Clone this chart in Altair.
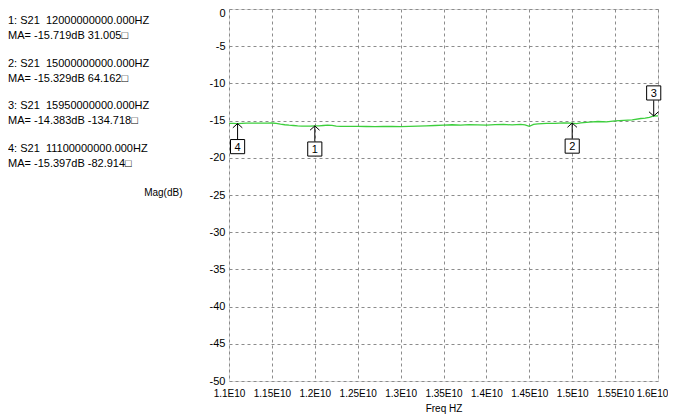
import altair as alt
import pandas as pd

# ---- trace data (frequency in units of 1E10 Hz, magnitude in dB) ----
freq = [1.100, 1.105, 1.110, 1.115, 1.120, 1.125, 1.130, 1.135, 1.140, 1.145,
        1.150, 1.155, 1.160, 1.165, 1.170, 1.175, 1.180, 1.185, 1.190, 1.195,
        1.200, 1.205, 1.210, 1.215, 1.220, 1.225, 1.230, 1.240, 1.250, 1.260,
        1.270, 1.280, 1.290, 1.300, 1.310, 1.320, 1.330, 1.340, 1.350, 1.360,
        1.370, 1.380, 1.390, 1.400, 1.410, 1.420, 1.430, 1.440, 1.445, 1.450,
        1.455, 1.460, 1.470, 1.480, 1.490, 1.500, 1.505, 1.510, 1.520, 1.530,
        1.540, 1.550, 1.560, 1.570, 1.580, 1.585, 1.590, 1.595, 1.600]
mag = [-15.36, -15.38, -15.40, -15.37, -15.35, -15.34, -15.33, -15.35, -15.33, -15.34,
       -15.32, -15.38, -15.48, -15.56, -15.62, -15.66, -15.72, -15.74, -15.74, -15.73,
       -15.72, -15.70, -15.66, -15.62, -15.64, -15.74, -15.77, -15.78, -15.78, -15.79,
       -15.80, -15.79, -15.78, -15.80, -15.78, -15.74, -15.70, -15.66, -15.62, -15.56,
       -15.60, -15.54, -15.58, -15.60, -15.54, -15.52, -15.58, -15.50, -15.56, -15.76,
       -15.50, -15.44, -15.38, -15.36, -15.30, -15.33, -15.40, -15.30, -15.20, -15.12,
       -15.16, -15.04, -14.96, -14.90, -14.72, -14.66, -14.56, -14.38, -14.36]

# ---- markers ----
marker_id = [1, 2, 3, 4]
marker_freq_hz = [12000000000, 15000000000, 15950000000, 11100000000]
marker_mag = [-15.719, -15.329, -14.383, -15.397]
marker_phase = [31.005, 64.162, -134.718, -82.914]
marker_dir = [-1, -1, 1, -1]   # -1: label box below the trace, 1: above

# ---- axis ticks ----
x_ticks = [1.1, 1.15, 1.2, 1.25, 1.3, 1.35, 1.4, 1.45, 1.5, 1.55, 1.6]
y_ticks = [0, -5, -10, -15, -20, -25, -30, -35, -40, -45, -50]

W, H = 429, 372
FONT = "Liberation Sans"
PX = 50.0 / H   # dB per pixel (layout helper for the readout text)
GRID = dict(grid=True, gridDash=[3, 3], gridColor="#8c8c8c", gridOpacity=1, gridWidth=1)

trace = pd.DataFrame({"f": freq, "m": mag})
markers = pd.DataFrame({
    "id": [str(i) for i in marker_id],
    "f": [v / 1e10 for v in marker_freq_hz],
    "m": marker_mag,
    "dir": marker_dir,
})
rows = []
for k, (i, fhz, m, p) in enumerate(zip(marker_id, marker_freq_hz, marker_mag, marker_phase)):
    rows.append({"txt": f"{i}: S21\u00a0 {fhz:.3f}HZ", "yy": -(12 + 42.5 * k) * PX})
    rows.append({"txt": f"MA= {m:.3f}dB {p:.3f}\u25a1", "yy": -(27 + 42.5 * k) * PX})
info = pd.DataFrame(rows)

xs = alt.Scale(domain=[1.1, 1.6], nice=False, zero=False)
ys = alt.Scale(domain=[-50, 0], nice=False)

x_axis = alt.Axis(values=x_ticks, labelExpr="datum.value + 'E10'", title="Freq HZ",
                  labelFontSize=10, labelPadding=7, titleFontSize=10,
                  labelOverlap=False, labelFlush=False,
                  labelOffset=alt.condition("datum.value >= 1.6", alt.value(-6), alt.value(0)),
                  titleFontWeight="normal", titleY=27, titleBaseline="middle",
                  ticks=False, domain=False, labelColor="black",
                  titleColor="black", labelFont=FONT, titleFont=FONT, **GRID)
y_axis = alt.Axis(values=y_ticks, labelExpr="datum.value + ''", title="Mag(dB)",
                  labelFontSize=11, labelPadding=4, titleFontSize=10,
                  labelOverlap=False, labelFlush=False,
                  labelOffset=alt.condition("datum.value >= 0", alt.value(4), alt.value(0)),
                  titleFontWeight="normal", titleAngle=0, titleAlign="right",
                  titleBaseline="middle", titleX=-47, titleY=H / 2 - 3,
                  ticks=False, domain=False, labelColor="black",
                  titleColor="black", labelFont=FONT, titleFont=FONT, **GRID)


def X(field):
    return alt.X(field, scale=xs, axis=x_axis)


def Y(field):
    return alt.Y(field, scale=ys, axis=y_axis)


line = alt.Chart(trace).mark_line(color="#3ccf3c", strokeWidth=1.3).encode(
    x=X("f:Q"), y=Y("m:Q"))

mk = alt.Chart(markers).transform_calculate(
    tail="datum.m + datum.dir * 2.1",
    box="datum.m + datum.dir * 3.1",
)

shaft = mk.mark_rule(color="black", strokeWidth=1).encode(
    x=X("f:Q"), y=Y("m:Q"), y2="tail:Q")

head_up = mk.transform_filter("datum.dir < 0").mark_point(
    shape="M-1,0.9L0,0L1,0.9", size=90, filled=False, color="black",
    strokeWidth=1, opacity=1).encode(x=X("f:Q"), y=Y("m:Q"))
head_down = mk.transform_filter("datum.dir > 0").mark_point(
    shape="M-1,-0.9L0,0L1,-0.9", size=90, filled=False, color="black",
    strokeWidth=1, opacity=1).encode(x=X("f:Q"), y=Y("m:Q"))

box = mk.mark_point(shape="square", size=200, filled=True, fill="white",
                    stroke="black", strokeWidth=1, opacity=1).encode(
    x=X("f:Q"), y=Y("box:Q"))
box_txt = mk.mark_text(fontSize=11, font=FONT, color="black", baseline="middle", dy=1).encode(
    x=X("f:Q"), y=Y("box:Q"), text="id:N")

info_txt = alt.Chart(info).mark_text(
    align="left", baseline="middle", fontSize=11, font=FONT, color="black").encode(
    x=alt.value(-221), y=Y("yy:Q"), text="txt:N")

chart = alt.layer(line, shaft, head_up, head_down, box, box_txt, info_txt).properties(
    width=W, height=H,
    autosize=alt.AutoSizeParams(type="none"),
    padding={"left": 221, "top": 1, "right": 10, "bottom": 34},
).configure_view(stroke="black", strokeWidth=1).configure_axis(
    labelOverlap=False, labelFlush=False
).configure(background="white")

chart.save("out.html", embed_options={"renderer": "svg", "actions": False})
